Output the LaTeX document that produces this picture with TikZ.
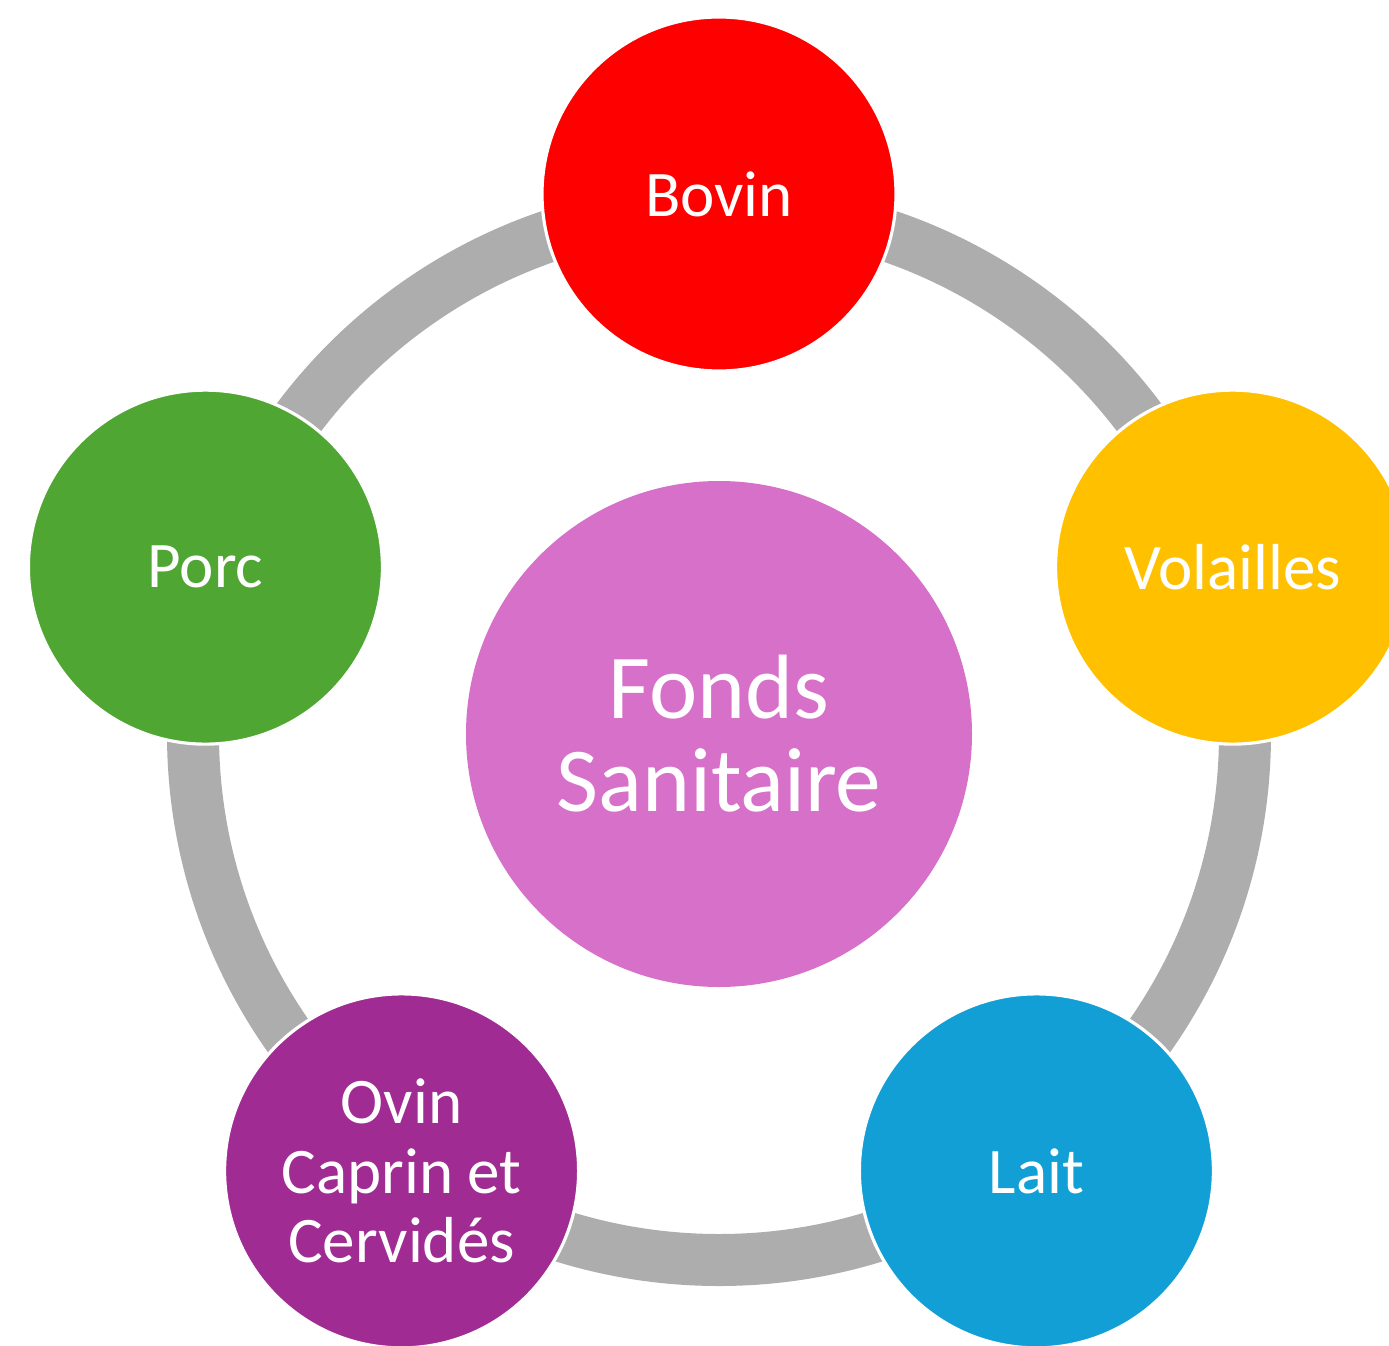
\documentclass[tikz,border=0pt]{standalone}
\usepackage{fontspec}
\setmainfont{Carlito}
\usepackage{tikz}
\definecolor{ringgray}{HTML}{ADADAD}
\definecolor{bovinred}{HTML}{FF0000}
\definecolor{volaillesyellow}{HTML}{FFC000}
\definecolor{laitblue}{HTML}{129FD6}
\definecolor{ovinpurple}{HTML}{A02B93}
\definecolor{porcgreen}{HTML}{50A632}
\definecolor{fondspink}{HTML}{D670C9}
\tikzset{
  sector/.style={circle, draw=white, line width=0.9pt, minimum size=3.54cm, inner sep=0pt,
    text=white, align=center, font=\fontsize{18.5}{19.8}\selectfont},
  hub/.style={circle, fill=fondspink, minimum size=5.06cm, inner sep=0pt,
    text=white, align=center, font=\fontsize{26}{26.5}\selectfont},
  ring/.style={draw=ringgray, line width=0.52cm}
}
\newcommand{\Rnode}{5.40}

\begin{document}
\begin{tikzpicture}
\clip (-7.19,-6.11) rectangle (6.70,7.34);
\fill[white] (-7.19,-6.11) rectangle (6.70,7.34);
\node[hub] (fonds) at (0,0) {Fonds\\Sanitaire};
\draw[ring] (fonds.center) circle (5.26);
\node[sector, fill=bovinred] (bovin) at (90:\Rnode) {Bovin};
\node[sector, fill=volaillesyellow] (volailles) at (18:\Rnode) {Volailles};
\node[sector, fill=laitblue] (lait) at (-54:\Rnode) {Lait};
\node[sector, fill=ovinpurple] (ovin) at (-126:\Rnode) {Ovin\\Caprin et\\Cervidés};
\node[sector, fill=porcgreen] (porc) at (162:\Rnode) {Porc};
\end{tikzpicture}
\end{document}
